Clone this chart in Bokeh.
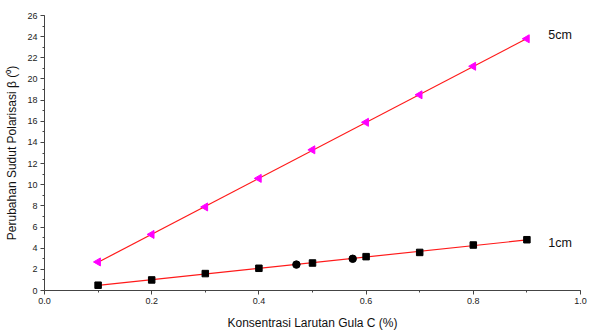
import numpy as np
from bokeh.plotting import figure
from bokeh.models import Range1d, SingleIntervalTicker, NumeralTickFormatter
from bokeh.embed import file_html
from bokeh.resources import INLINE
from bokeh.core.properties import value

# Data
conc = [0.1, 0.2, 0.3, 0.4, 0.5, 0.6, 0.7, 0.8, 0.9]
beta_5cm = [2.7, 5.3, 7.9, 10.6, 13.3, 15.9, 18.5, 21.2, 23.8]
beta_1cm = [0.5, 1.0, 1.6, 2.1, 2.6, 3.2, 3.6, 4.3, 4.8]
extra_x = [0.47, 0.575]
extra_1cm = [2.45, 3.0]
series_labels = ["5cm", "1cm"]
label_y = [24.2, 4.45]

FONT = "Liberation Sans"

p = figure(width=595, height=332, output_backend="svg", toolbar_location=None,
           x_range=Range1d(0, 1.0), y_range=Range1d(0, 26),
           min_border_left=44, min_border_right=15, min_border_top=15, min_border_bottom=42)
p.frame_width = 536
p.frame_height = 275
p.outline_line_color = None
p.grid.visible = False
p.background_fill_color = "white"
p.border_fill_color = "white"

# fit lines
for ys in (beta_5cm, beta_1cm):
    m, c = np.polyfit(conc, ys, 1)
    xs = [conc[0], conc[-1]]
    p.line(xs, [m * xs[0] + c, m * xs[1] + c], line_color="#ff1a1a", line_width=1.2)

p.scatter(conc, beta_5cm, marker="triangle", angle=np.pi / 2, size=8,
          fill_color="#ff00ff", line_color="#ff00ff")
p.scatter(conc, beta_1cm, marker="square", size=6.5,
          fill_color="black", line_color="black")
p.scatter(extra_x, extra_1cm, marker="circle", size=7.5,
          fill_color="black", line_color="black")

p.text(x=[0.94, 0.94], y=label_y, text=series_labels,
       text_font=value(FONT), text_font_size="12.5px", text_color="#111",
       text_baseline="middle", text_align="left")

p.xaxis.ticker = SingleIntervalTicker(interval=0.2, num_minor_ticks=2)
p.yaxis.ticker = SingleIntervalTicker(interval=2, num_minor_ticks=2)
p.xaxis.formatter = NumeralTickFormatter(format="0.0")

for ax in (p.xaxis, p.yaxis):
    ax.axis_line_color = "#444"
    ax.major_tick_line_color = "#444"
    ax.minor_tick_line_color = "#444"
    ax.major_tick_in = 0
    ax.major_tick_out = 4
    ax.minor_tick_in = 0
    ax.minor_tick_out = 2
    ax.major_label_text_font = FONT
    ax.major_label_text_font_size = "9px"
    ax.major_label_text_color = "#222"
    ax.axis_label_text_font = FONT
    ax.axis_label_text_font_size = "12px"
    ax.axis_label_text_font_style = "normal"
    ax.axis_label_text_color = "#111"
    ax.major_label_standoff = 3

p.xaxis.axis_label = "Konsentrasi Larutan Gula C (%)"
p.yaxis.axis_label = "Perubahan Sudut Polarisasi β (⁰)"
p.xaxis.axis_label_standoff = 9
p.yaxis.axis_label_standoff = 5

open("out.html", "w").write(file_html(p, INLINE))
